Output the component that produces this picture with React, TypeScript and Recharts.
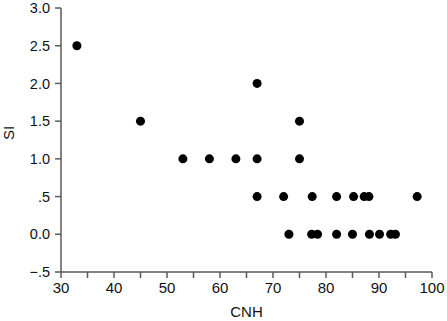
import { ScatterChart, Scatter, XAxis, YAxis, Label } from "recharts";

// CNH values grouped by SI level
const SI_LEVELS = [2.5, 2.0, 1.5, 1.0, 0.5, 0.0];
const CNH_BY_LEVEL = [
  [33],
  [67],
  [45, 75],
  [53, 58, 63, 67, 75],
  [67, 72, 77.4, 82, 85.2, 87.2, 88.1, 97.2],
  [73, 77.3, 78.4, 82, 85, 88.2, 90.1, 92.2, 93.1],
];

const X_TICKS = [30, 35, 40, 45, 50, 55, 60, 65, 70, 75, 80, 85, 90, 95, 100];
const Y_TICKS = [-0.5, 0, 0.5, 1, 1.5, 2, 2.5, 3];
const Y_LABELS: Record<string, string> = {
  "-0.5": "\u2212.5",
  "0": "0.0",
  "0.5": ".5",
  "1": "1.0",
  "1.5": "1.5",
  "2": "2.0",
  "2.5": "2.5",
  "3": "3.0",
};

const points = SI_LEVELS.flatMap((si, i) => CNH_BY_LEVEL[i].map((cnh) => ({ cnh, si })));

const AXIS = "#5a5a5a";
const FONT = "'Liberation Sans', Arial, sans-serif";

export default function App() {
  return (
    <div style={{ position: "absolute", left: 0, top: 0, background: "#fff" }}>
      <ScatterChart
        width={447}
        height={321}
        margin={{ top: 8, right: 15, left: 0, bottom: 0 }}
        style={{ fontFamily: FONT }}
      >
        <XAxis
          type="number"
          dataKey="cnh"
          domain={[30, 100]}
          ticks={X_TICKS}
          interval={0}
          tickFormatter={(v) => (v % 10 === 0 ? String(v) : "")}
          height={49}
          stroke={AXIS}
          strokeWidth={1.5}
          tickSize={6}
          tickMargin={4}
          tick={{ fill: "#111", fontSize: 15 }}
        >
          <Label value="CNH" position="insideBottom" offset={4} fill="#111" fontSize={15} />
        </XAxis>
        <YAxis
          type="number"
          dataKey="si"
          domain={[-0.5, 3]}
          ticks={Y_TICKS}
          interval={0}
          tickFormatter={(v) => Y_LABELS[String(v)] ?? String(v)}
          width={61}
          stroke={AXIS}
          strokeWidth={1.5}
          tickSize={6}
          tickMargin={5}
          tick={{ fill: "#111", fontSize: 14.5 }}
        >
          <Label value="SI" angle={-90} position="insideLeft" offset={9} fill="#111" fontSize={15} />
        </YAxis>
        <Scatter data={points} fill="#000" shape="circle" isAnimationActive={false}
          r={3.5}
        />
      </ScatterChart>
    </div>
  );
}
